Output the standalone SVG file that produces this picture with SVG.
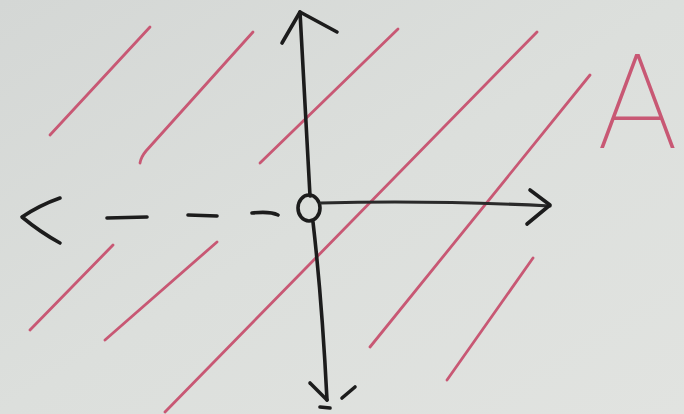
<svg xmlns="http://www.w3.org/2000/svg" width="684" height="414" viewBox="0 0 684 414">
  <defs>
    <linearGradient id="bg" x1="0" y1="0" x2="1" y2="1">
      <stop offset="0" stop-color="#d4d7d5"/>
      <stop offset="0.5" stop-color="#dcdfdc"/>
      <stop offset="1" stop-color="#e1e3e0"/>
    </linearGradient>
  </defs>
  <style>
    .hatch { fill: none; stroke: #c85874; stroke-width: 2.8; stroke-linecap: round; }
    .axis { fill: none; stroke: #1c1c1c; stroke-width: 3.6; stroke-linecap: round; stroke-linejoin: round; }
    .axis-thin { fill: none; stroke: #2a2a2a; stroke-width: 3.2; stroke-linecap: round; stroke-linejoin: round; }
    .label { font-family: Roboto, "Liberation Sans", sans-serif; font-weight: 100; fill: #c85874; }
  </style>
  <rect width="684" height="414" fill="url(#bg)"/>

  <g id="hatching">
    <path class="hatch" d="M50,135 L150,27"/>
    <path class="hatch" d="M140,163 Q141,157 146,151 L253,32"/>
    <path class="hatch" d="M260,163 L398,29"/>
    <path class="hatch" d="M537,32 L165,412"/>
    <path class="hatch" d="M590,75 L370,347"/>
    <path class="hatch" d="M30,330 L113,245"/>
    <path class="hatch" d="M105,340 L217,242"/>
    <path class="hatch" d="M447,380 L533,258"/>
  </g>

  <g id="axes">
    <path class="axis" d="M300,12 Q305,100 310,196"/>
    <path class="axis" d="M282,43 L300,12 L337,32"/>
    <ellipse class="axis" cx="309" cy="208" rx="11" ry="13"/>
    <path class="axis" d="M313,222 Q322,300 327,400"/>
    <path class="axis" d="M310,383 L327,400"/>
    <path class="axis" d="M342,398 L355,387"/>
    <path class="axis" d="M320,407 L330,408"/>
    <path class="axis-thin" d="M321,203 Q430,200 550,206"/>
    <path class="axis" d="M530,190 L550,205 L527,224"/>
    <path class="axis" d="M60,198 Q40,205 22,217 Q40,232 60,243"/>
    <path class="axis" d="M107,218 L147,217"/>
    <path class="axis" d="M188,215 L217,216"/>
    <path class="axis" d="M252,213 Q270,211 278,215"/>
  </g>

  <g id="label-A">
    <text class="label" x="598" y="148" font-size="132">A</text>
  </g>
</svg>
